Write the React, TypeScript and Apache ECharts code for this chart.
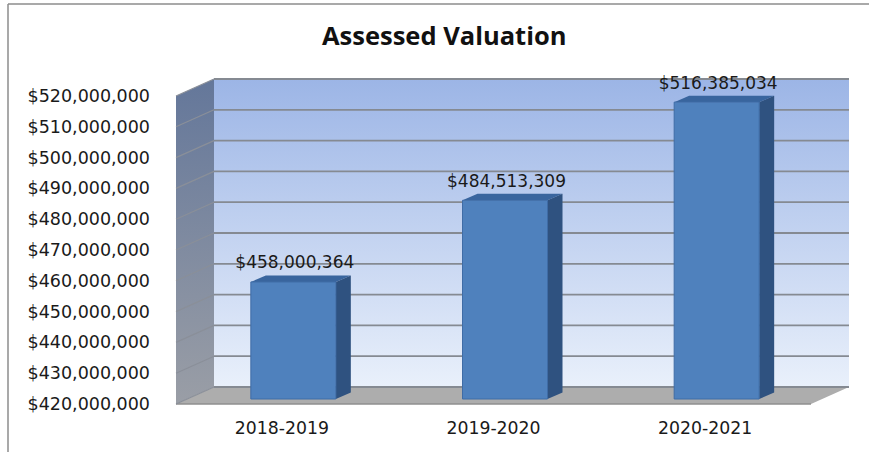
import React, { useEffect, useRef } from "react";
import * as echarts from "echarts";

const titleText = "Assessed Valuation";
const categories = ["2018-2019", "2019-2020", "2020-2021"];
const values = [458000364, 484513309, 516385034];
const gridTicks = [420000000, 430000000, 440000000, 450000000, 460000000, 470000000, 480000000, 490000000, 500000000, 510000000, 520000000];

const DX = 38, DY = -17;
const BAR_DX = 11.5, BAR_DY = -5, BAR_W = 85, BAR_DEPTH_X = 15, BAR_DEPTH_Y = -6.5;
const FONT = "DejaVu Sans";
const money = (v: number) => "$" + v.toLocaleString("en-US");

const poly = (points: number[][], fill: any, extra: any = {}) => ({
  type: "polygon",
  shape: { points },
  style: { fill, ...extra },
});

export default function App() {
  const ref = useRef<HTMLDivElement>(null);
  useEffect(() => {
    document.body.style.margin = "0";
    const chart = echarts.init(ref.current!, null, { renderer: "svg" });
    const LG = echarts.graphic.LinearGradient;
    chart.setOption({
      animation: false,
      backgroundColor: "#ffffff",
      title: {
        text: titleText,
        left: 317,
        top: 17,
        textStyle: { fontFamily: "Open Sans", fontWeight: "bold", fontSize: 25.5, color: "#111111" },
      },
      graphic: [
        { type: "line", shape: { x1: 8, y1: 4, x2: 869, y2: 4 }, style: { stroke: "#8c8c8c", lineWidth: 1.5 } },
        { type: "line", shape: { x1: 8, y1: 4, x2: 8, y2: 452 }, style: { stroke: "#8c8c8c", lineWidth: 1.5 } },
      ],
      grid: { left: 176, top: 96, width: 635, height: 308 },
      xAxis: {
        type: "category",
        data: categories,
        axisLine: { show: false },
        axisTick: { show: false },
        axisLabel: { margin: 15, fontFamily: FONT, fontSize: 17.3, color: "#1a1a1a" },
      },
      yAxis: {
        type: "value",
        min: 420000000,
        max: 520000000,
        interval: 10000000,
        axisLine: { show: false },
        axisTick: { show: false },
        splitLine: { show: false },
        axisLabel: { margin: 26, formatter: money, fontFamily: FONT, fontSize: 17.5, color: "#1a1a1a" },
      },
      series: [
        {
          type: "custom",
          silent: true,
          clip: false,
          z: 1,
          data: [0],
          renderItem: (params: any) => {
            const { x, y, width: w, height: h } = params.coordSys;
            return {
              type: "group",
              children: [
                poly([[x + DX, y + DY], [x + w + DX, y + DY], [x + w + DX, y + h + DY], [x + DX, y + h + DY]],
                  new LG(0, 0, 0, 1, [{ offset: 0, color: "#9cb5e6" }, { offset: 1, color: "#e9f0fb" }])),
                poly([[x, y], [x + DX, y + DY], [x + DX, y + h + DY], [x, y + h]],
                  new LG(0, 0, 0, 1, [{ offset: 0, color: "#64779a" }, { offset: 1, color: "#9a9ea6" }])),
                poly([[x, y + h], [x + DX, y + h + DY], [x + w + DX, y + h + DY], [x + w, y + h]], "#adadad"),
                { type: "line", shape: { x1: x, y1: y + h, x2: x + w, y2: y + h }, style: { stroke: "#8f8f8f", lineWidth: 1.5 } },
              ],
            };
          },
        },
        {
          type: "custom",
          silent: true,
          clip: false,
          z: 2,
          data: gridTicks.map((t) => [0, t]),
          encode: { x: 0, y: 1 },
          renderItem: (params: any, api: any) => {
            const yp = api.coord([0, api.value(1)])[1];
            const { x, width: w } = params.coordSys;
            return {
              type: "group",
              children: [
                { type: "line", shape: { x1: x, y1: yp, x2: x + DX, y2: yp + DY }, style: { stroke: "#8a8f99", lineWidth: 1.2 } },
                { type: "line", shape: { x1: x + DX, y1: yp + DY, x2: x + w + DX, y2: yp + DY }, style: { stroke: "#858a92", lineWidth: 1.8 } },
              ],
            };
          },
        },
        {
          type: "custom",
          silent: true,
          clip: false,
          z: 3,
          data: values.map((v, i) => [i, v]),
          encode: { x: 0, y: 1 },
          renderItem: (params: any, api: any) => {
            const i = api.value(0);
            const v = api.value(1);
            const [cx, top] = api.coord([i, v]);
            const bottom = api.coord([i, 420000000])[1];
            const x0 = cx + BAR_DX - BAR_W / 2;
            const x1 = x0 + BAR_W;
            const y0 = top + BAR_DY;
            const y1 = bottom + BAR_DY;
            return {
              type: "group",
              children: [
                poly([[x0, y0], [x0 + BAR_DEPTH_X, y0 + BAR_DEPTH_Y], [x1 + BAR_DEPTH_X, y0 + BAR_DEPTH_Y], [x1, y0]], "#39659e"),
                poly([[x1, y0], [x1 + BAR_DEPTH_X, y0 + BAR_DEPTH_Y], [x1 + BAR_DEPTH_X, y1 + BAR_DEPTH_Y], [x1, y1]], "#2f5280"),
                {
                  type: "rect",
                  shape: { x: x0, y: y0, width: BAR_W, height: y1 - y0 },
                  style: { fill: "#4f81bd", stroke: "#3f6ca6", lineWidth: 1 },
                },
                {
                  type: "text",
                  style: {
                    x: x0 + BAR_W / 2 + 1.5,
                    y: y0 - 19.5,
                    text: money(v),
                    textAlign: "center",
                    textVerticalAlign: "middle",
                    fontFamily: FONT,
                    fontSize: 17,
                    fill: "#1a1a1a",
                  },
                },
              ],
            };
          },
        },
      ],
    });
    return () => chart.dispose();
  }, []);
  return <div ref={ref} style={{ width: 869, height: 452 }} />;
}
